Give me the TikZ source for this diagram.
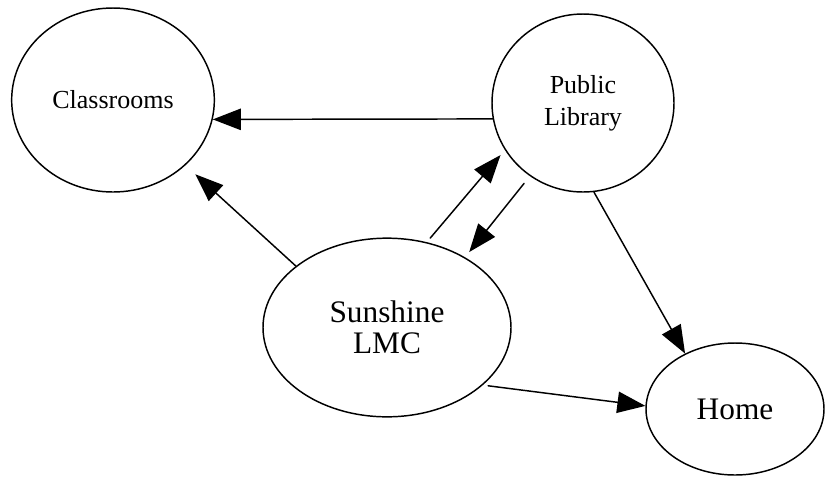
\documentclass[tikz,border=0pt]{standalone}
\usepackage{fontspec}
\setmainfont{Liberation Serif}
\usetikzlibrary{arrows.meta,shapes.geometric}

\begin{document}
\begin{tikzpicture}[line cap=round,line join=round,x=0.75pt,y=-0.75pt,
	place/.style={draw, ellipse, line width=1.1pt, inner sep=0pt, align=center},
	small/.style={font=\fontsize{19.5}{24}\selectfont},
	large/.style={font=\fontsize{23.5}{23.5}\selectfont},
	link/.style={-{Triangle[length=21pt,width=16pt]}, line width=1.1pt}]
	\useasboundingbox (0,0) rectangle (825,476);
	\node [place, small, minimum width=152pt, minimum height=138pt] (class) at (113,100) {Classrooms};
	\node [place, small, minimum width=136.5pt, minimum height=133.5pt] (lib) at (583,103) {Public\\Library};
	\node [place, large, minimum width=186pt, minimum height=134pt] (lmc) at (387,327.5) {Sunshine\\LMC};
	\node [place, large, minimum width=133.5pt, minimum height=99pt] (home) at (735,409) {Home};
	\draw [link] (lib.190) -- (class.349);
	\draw [link, shorten >=10pt] (lmc.146) -- (class.318);
	\draw [link, shorten <=4pt, shorten >=5pt] (lmc.65) -- (lib.211);
	\draw [link, shorten <=7pt, shorten >=5pt] (lib.234) -- (lmc.42);
	\draw [link] (lib.277) -- (home.132);
	\draw [link, shorten <=4pt] (lmc.329) -- (home.178);
\end{tikzpicture}
\end{document}
